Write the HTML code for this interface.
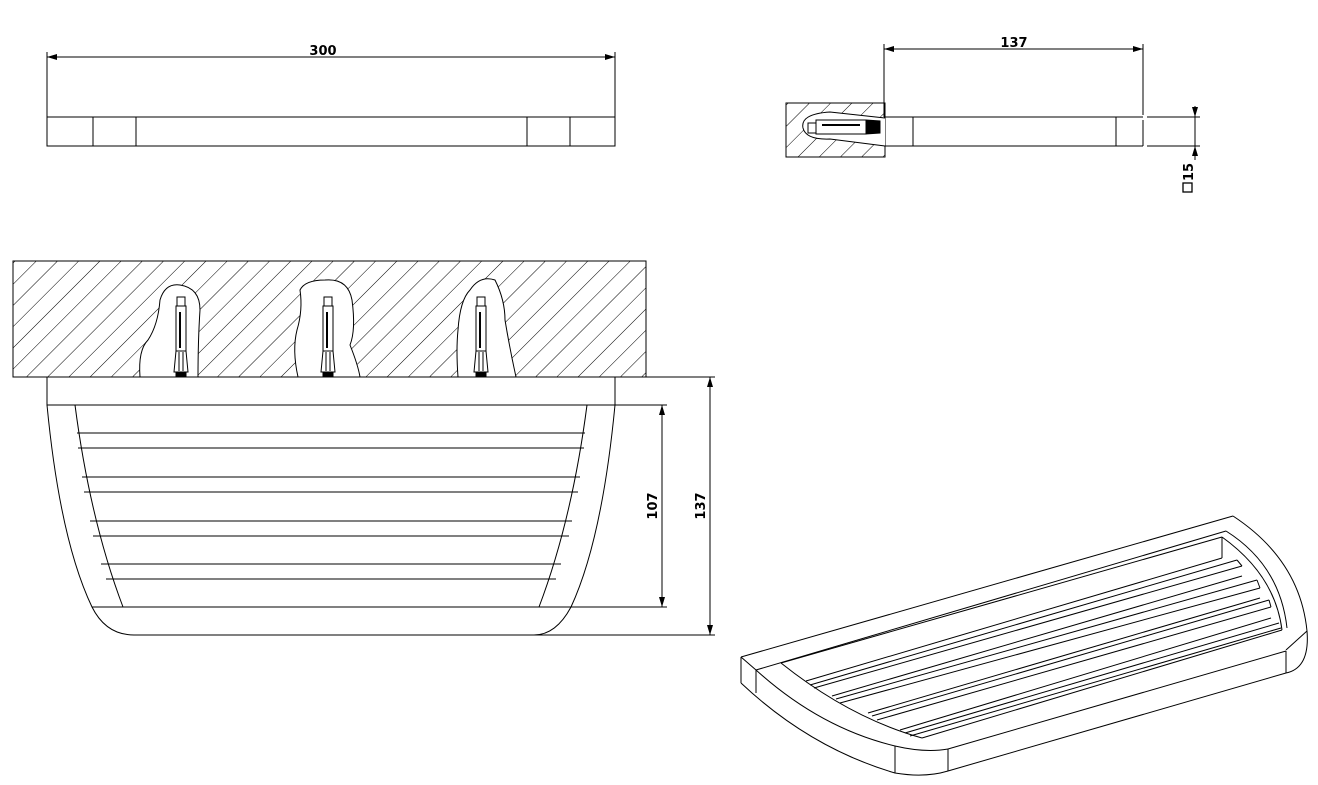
<!DOCTYPE html>
<html><head><meta charset="utf-8"><style>
html,body{margin:0;padding:0;background:#fff}
svg{display:block}
text{font-family:"DejaVu Sans","Liberation Sans",sans-serif;font-size:13px;font-weight:bold;fill:#000}
</style></head><body>
<svg width="1318" height="785" viewBox="0 0 1318 785" xmlns="http://www.w3.org/2000/svg">
<defs>
<pattern id="h" patternUnits="userSpaceOnUse" width="15" height="15" patternTransform="rotate(45)">
<line x1="0" y1="0" x2="0" y2="15" stroke="#000" stroke-width="1"/>
</pattern>
<marker id="a" viewBox="0 0 10 6" refX="10" refY="3" markerWidth="10" markerHeight="6" orient="auto-start-reverse" markerUnits="userSpaceOnUse">
<path d="M0,0 L10,3 L0,6 z" fill="#000"/>
</marker>
<g id="anc">
<rect x="-4" y="297" width="8" height="9" fill="#fff" stroke="#000"/>
<rect x="-5" y="306" width="10" height="45" fill="#fff" stroke="#000"/>
<line x1="-1" y1="312" x2="-1" y2="348" stroke="#000" stroke-width="2"/>
<path d="M-5,351 L-7,372 L7,372 L5,351 z" fill="#fff" stroke="#000"/>
<line x1="-2" y1="352" x2="-2" y2="371" stroke="#000"/><line x1="2" y1="352" x2="2" y2="371" stroke="#000"/>
<rect x="-5" y="372" width="10" height="5" fill="#000"/>
</g>
</defs>
<g fill="none" stroke="#000" stroke-width="1">
<line x1="47" y1="52" x2="47" y2="117"/><line x1="615" y1="52" x2="615" y2="117"/>
<line x1="47" y1="57" x2="615" y2="57" marker-start="url(#a)" marker-end="url(#a)"/>
<rect x="47" y="117" width="568" height="29"/>
<line x1="93" y1="117" x2="93" y2="146"/><line x1="136" y1="117" x2="136" y2="146"/>
<line x1="527" y1="117" x2="527" y2="146"/><line x1="570" y1="117" x2="570" y2="146"/>
<rect x="786" y="103" width="99" height="54" fill="url(#h)"/>
<path d="M885,118 L830,112 Q800,114 803,128 Q806,140 830,139 L885,146" fill="#fff"/>
<rect x="808" y="123" width="8" height="10" fill="#fff"/>
<rect x="816" y="120" width="50" height="14" fill="#fff"/>
<line x1="822" y1="125" x2="860" y2="125" stroke-width="2"/>
<path d="M866,120 L880,121 L880,133 L866,134 z" fill="#000"/>
<line x1="884" y1="44" x2="884" y2="117"/><line x1="1143" y1="44" x2="1143" y2="115"/>
<line x1="884" y1="49" x2="1143" y2="49" marker-start="url(#a)" marker-end="url(#a)"/>
<line x1="884" y1="117" x2="1143" y2="117"/><line x1="884" y1="146" x2="1143" y2="146"/>
<line x1="1143" y1="120" x2="1143" y2="146"/>
<line x1="913" y1="117" x2="913" y2="146"/><line x1="1116" y1="117" x2="1116" y2="146"/>
<line x1="1147" y1="117" x2="1200" y2="117"/><line x1="1147" y1="146" x2="1200" y2="146"/>
<line x1="1195" y1="106" x2="1195" y2="117" marker-end="url(#a)"/>
<line x1="1195" y1="160" x2="1195" y2="146" marker-end="url(#a)"/>
<line x1="1195" y1="117" x2="1195" y2="146"/>
<rect x="1183" y="183" width="9" height="9" stroke-width="1.3"/>
<rect x="13" y="261" width="633" height="116" fill="url(#h)"/>
<path d="M140,377 Q138,350 148,340 Q158,325 160,300 Q165,283 180,285 Q200,288 200,310 Q198,340 198,377 z" fill="#fff"/>
<path d="M298,377 Q292,350 297,330 Q303,310 300,290 Q305,280 325,280 Q348,278 352,300 Q356,330 350,345 Q358,365 360,377 z" fill="#fff"/>
<path d="M458,377 Q456,350 458,330 Q460,300 470,290 Q480,275 495,280 Q505,300 505,320 Q510,350 516,377 z" fill="#fff"/>
<use href="#anc" x="181"/><use href="#anc" x="328"/><use href="#anc" x="481"/>
<rect x="47" y="377" width="568" height="28"/>
<path d="M47,405 Q60,540 92,607 Q106,635 134,635 L534,635 Q556,635 571,607 Q602,540 615,405"/>
<line x1="92" y1="607" x2="571" y2="607"/>
<path d="M75,405 Q90,520 123,607"/><path d="M587,405 Q572,520 539,607"/>
<line x1="77" y1="433" x2="585" y2="433"/><line x1="78" y1="448" x2="584" y2="448"/>
<line x1="82" y1="477" x2="580" y2="477"/><line x1="84" y1="492" x2="578" y2="492"/>
<line x1="90" y1="521" x2="572" y2="521"/><line x1="93" y1="536" x2="569" y2="536"/>
<line x1="101" y1="564" x2="561" y2="564"/><line x1="106" y1="579" x2="556" y2="579"/>
<line x1="615" y1="405" x2="667" y2="405"/><line x1="571" y1="607" x2="667" y2="607"/>
<line x1="662" y1="405" x2="662" y2="607" marker-start="url(#a)" marker-end="url(#a)"/>
<line x1="615" y1="377" x2="715" y2="377"/><line x1="534" y1="635" x2="715" y2="635"/>
<line x1="710" y1="377" x2="710" y2="635" marker-start="url(#a)" marker-end="url(#a)"/>
<line x1="741" y1="657" x2="1233" y2="516"/>
<line x1="741" y1="657" x2="741" y2="683"/><line x1="741" y1="657" x2="756" y2="670"/>
<line x1="756" y1="670" x2="756" y2="693"/>
<line x1="756" y1="670" x2="1226" y2="531"/>
<path d="M1233,516 Q1300,560 1307,631"/>
<path d="M1226,531 Q1280,565 1287,628"/>
<path d="M1307,631 Q1310,668 1286,673"/>
<line x1="1307" y1="631" x2="1286" y2="650"/>
<line x1="1286" y1="651" x2="1286" y2="673"/>
<line x1="948" y1="749" x2="1286" y2="651"/>
<line x1="948" y1="771" x2="1286" y2="673"/>
<path d="M741,683 Q810,748 895,773 Q925,778 948,771"/>
<path d="M756,670 Q820,728 895,746 Q925,753 948,749"/>
<line x1="895" y1="746" x2="895" y2="773"/><line x1="948" y1="749" x2="948" y2="771"/>
<path d="M781,663 Q850,718 922,738"/>
<line x1="781" y1="663" x2="1222" y2="537"/>
<line x1="1222" y1="537" x2="1222" y2="558"/>
<path d="M1222,537 Q1275,575 1282,630"/>
<line x1="922" y1="738" x2="1282" y2="630"/>
<line x1="806" y1="681" x2="1222" y2="558"/><line x1="810" y1="685" x2="1237" y2="560"/>
<line x1="814" y1="688" x2="1242" y2="566"/><line x1="1237" y1="560" x2="1242" y2="566"/>
<line x1="832" y1="696" x2="1242" y2="576"/><line x1="836" y1="699" x2="1257" y2="580"/>
<line x1="840" y1="703" x2="1260" y2="588"/><line x1="1257" y1="580" x2="1260" y2="588"/>
<line x1="868" y1="713" x2="1260" y2="598"/><line x1="872" y1="716" x2="1269" y2="600"/>
<line x1="877" y1="720" x2="1271" y2="607"/><line x1="1269" y1="600" x2="1271" y2="607"/>
<line x1="900" y1="730" x2="1271" y2="618"/><line x1="905" y1="733" x2="1279" y2="623"/>
<line x1="910" y1="736" x2="1281" y2="628"/>
</g>
<text x="323" y="55" text-anchor="middle">300</text>
<text x="1014" y="47" text-anchor="middle">137</text>
<text transform="translate(1193,172) rotate(-90)" text-anchor="middle">15</text>
<text transform="translate(657,506) rotate(-90)" text-anchor="middle">107</text>
<text transform="translate(705,506) rotate(-90)" text-anchor="middle">137</text>
</svg>
</body></html>
